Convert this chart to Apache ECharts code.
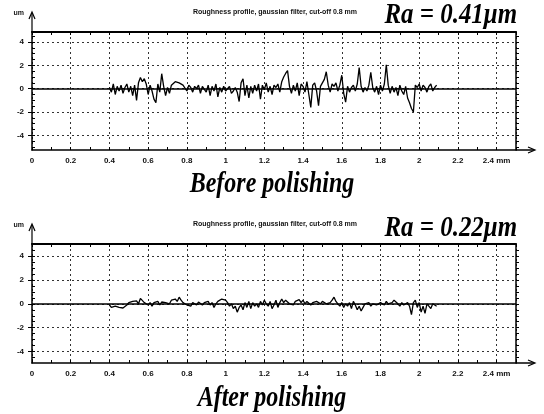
<!DOCTYPE html>
<html>
<head>
<meta charset="utf-8">
<script src="https://cdn.jsdelivr.net/npm/echarts@6/dist/echarts.min.js"></script>
<style>
  html, body { margin: 0; padding: 0; background: #fff; }
  #chart { width: 544px; height: 414px; }
</style>
</head>
<body>
<div id="chart"></div>
<script>
// profile sampled every 0.01 mm starting at 0.40 mm
const xStart = 0.40;
const xStep = 0.01;

const beforeProfile = [
  0.1, -0.3, 0.4, -0.5, 0.2, -0.2, 0.3, -0.4, 0.1, 0.4,
  -0.3, 0.2, -0.6, 0.3, -1.0, 0.5, 0.95, 0.6, 0.85, 0.4,
  -0.5, 0.3, -0.2, -0.9, -1.2, 0.4, -0.3, 1.28, 0.2, -0.6,
  0.1, -0.4, 0.3, 0.2, 0.6, 0.75, 0.5, 0.6, 0.3, 0.4,
  -0.2, 0.3, 0.1, -0.3, 0.2, 0.0, 0.3, -0.4, 0.2, 0.1,
  -0.3, 0.3, -0.6, 0.2, -0.2, 0.4, -0.7, 0.1, -0.3, 0.2,
  -0.2, -0.1, 0.2, -0.4, -0.2, 0.1, -0.3, -1.1, 0.5, 0.85,
  -0.6, 0.3, -0.8, 0.2, -0.4, 0.3, -0.2, 0.4, -0.9, 0.3,
  -0.1, 0.5, -0.3, 0.2, -0.5, 0.3, 0.1, 0.4, -0.3, 0.6,
  1.0, 1.3, 1.55, 0.2, -0.4, 0.3, -0.2, 0.5, -0.6, 0.4,
  0.2, -0.3, 0.6, -0.5, -1.6, 0.3, 0.5, -0.2, -1.45, 0.2,
  0.5, 0.8, 1.45, 0.3, -0.3, 0.4, 0.2, 0.5, -0.2, 0.3,
  1.15, -0.4, -1.15, 0.2, -0.3, 0.1, 0.3, -0.2, 0.4, 1.8,
  0.2, -0.3, 0.1, -0.2, 0.3, 1.4, 0.1, -0.3, 0.2, -0.5,
  0.3, -0.2, 0.4, 2.05, 0.3, -0.4, 0.2, -0.3, 0.1, -0.6,
  0.3, -0.2, -0.5, 0.2, -0.8, -1.2, -1.7, -2.0, 0.3, 0.1,
  0.4, -0.2, 0.3, 0.1, -0.3, 0.2, 0.4, -0.2, 0.1, 0.3
];

const afterProfile = [
  -0.1, -0.3, -0.4, -0.2, -0.3, -0.3, -0.3, -0.35, -0.3, -0.1,
  0.1, 0.0, 0.2, 0.1, 0.25, 0.0, 0.45, 0.3, 0.1, 0.0,
  -0.1, 0.1, -0.2, 0.1, 0.0, 0.2, -0.1, 0.15, 0.3, 0.1,
  0.25, 0.0, 0.3, 0.2, 0.4, 0.2, 0.55, 0.3, 0.1, 0.2,
  -0.1, 0.0, -0.2, 0.1, 0.0, -0.1, 0.15, 0.0, -0.1, 0.1,
  0.0, 0.2, -0.1, 0.1, -0.3, 0.0, 0.2, 0.1, 0.4, 0.55,
  0.3, 0.1, -0.2, 0.0, -0.4, -0.2, -0.7, -0.3, -0.1, -0.5,
  0.1, -0.3, 0.2, -0.4, 0.1, -0.2, 0.0, -0.3, 0.2, -0.1,
  0.3, 0.0, -0.2, 0.2, -0.4, -0.1, 0.3, -0.3, 0.1, 0.4,
  0.1, 0.3, 0.2, 0.0, 0.1, -0.1, 0.2, 0.1, 0.35, 0.1,
  0.3, 0.0, 0.2, 0.1, -0.1, 0.1, 0.0, 0.2, 0.1, 0.0,
  0.2, 0.1, 0.0, 0.15, 0.1, 0.3, 0.55, 0.2, 0.0, -0.2,
  0.1, -0.3, 0.0, -0.2, 0.1, -0.4, 0.2, -0.1, -0.5, -0.2,
  -0.6, -0.3, 0.0, -0.1, 0.1, -0.2, 0.0, 0.1, -0.1, 0.0,
  0.1, 0.0, -0.1, 0.2, 0.0, -0.1, 0.1, 0.3, 0.2, 0.0,
  -0.2, 0.1, -0.1, 0.0, 0.1, -0.2, -0.9, 0.1, 0.3, -0.3,
  0.1, -0.7, -0.2, -0.8, 0.0, -0.2, -0.4, 0.0, -0.1, -0.2
];

const xTickLabels = ['0', '0.2', '0.4', '0.6', '0.8', '1', '1.2', '1.4', '1.6', '1.8', '2', '2.2', '2.4 mm'];
const yTickValues = [-4, -2, 0, 2, 4];
const yMinorValues = [-5, -4.5, -4, -3.5, -3, -2.5, -2, -1.5, -1, -0.5, 0, 0.5, 1, 1.5, 2, 2.5, 3, 3.5, 4, 4.5];

const plotTitle = 'Roughness profile, gaussian filter, cut-off 0.8 mm';
const raBefore = 'Ra = 0.41μm';
const raAfter = 'Ra = 0.22μm';
const captionBefore = 'Before polishing';
const captionAfter = 'After polishing';

const panels = [
  { top: 32, height: 118, yMin: -5.25, yMax: 4.85, data: beforeProfile },
  { top: 244, height: 119, yMin: -4.95, yMax: 5.0, data: afterProfile }
];

const smallFont = { fontFamily: 'Liberation Sans', fontSize: 8, fontWeight: 'bold', color: '#111' };
const dashed = { color: '#333', width: 1, type: [2, 3] };

const chart = echarts.init(document.getElementById('chart'));

const grids = [], xAxes = [], yAxes = [], series = [];
panels.forEach((p, i) => {
  grids.push({ left: 32, width: 484, top: p.top, height: p.height });
  // bottom axis with labels
  xAxes.push({
    type: 'value', gridIndex: i, position: 'bottom', min: 0, max: 2.5, interval: 0.2,
    axisLine: { onZero: false, lineStyle: { color: '#000', width: 1.5 } },
    axisTick: { inside: true, length: 3, lineStyle: { color: '#000' } },
    minorTick: { show: true, splitNumber: 2, length: 3, lineStyle: { color: '#000' } },
    splitLine: { show: true, lineStyle: dashed },
    axisLabel: Object.assign({
      margin: 7, showMaxLabel: false,
      formatter: v => {
        const k = Math.round(v / 0.2);
        return Math.abs(v - k * 0.2) < 1e-6 && k < xTickLabels.length ? xTickLabels[k] : '';
      }
    }, smallFont)
  });
  // top border
  xAxes.push({
    type: 'value', gridIndex: i, position: 'top', min: 0, max: 2.5, interval: 0.1,
    axisLine: { onZero: false, lineStyle: { color: '#000', width: 2 } },
    axisTick: { inside: true, length: 3, lineStyle: { color: '#000' } },
    axisLabel: { show: false }, splitLine: { show: false }
  });
  // left axis with labels
  yAxes.push({
    type: 'value', gridIndex: i, position: 'left', min: p.yMin, max: p.yMax,
    axisLine: { onZero: false, lineStyle: { color: '#000', width: 1.5 } },
    axisTick: { customValues: yTickValues, length: 4, lineStyle: { color: '#000' } },
    splitLine: { show: true, lineStyle: dashed },
    axisLabel: Object.assign({ customValues: yTickValues, margin: 8 }, smallFont)
  });
  // right border
  yAxes.push({
    type: 'value', gridIndex: i, position: 'right', min: p.yMin, max: p.yMax,
    axisLine: { onZero: false, lineStyle: { color: '#000', width: 1.5 } },
    axisTick: { customValues: yMinorValues, length: 3, lineStyle: { color: '#000' } },
    axisLabel: { show: false }, splitLine: { show: false }
  });
  // left minor ticks
  yAxes.push({
    type: 'value', gridIndex: i, position: 'left', min: p.yMin, max: p.yMax,
    axisLine: { show: false },
    axisTick: { customValues: yMinorValues, inside: true, length: 3, lineStyle: { color: '#000' } },
    axisLabel: { show: false }, splitLine: { show: false }
  });
  series.push({
    type: 'line', xAxisIndex: i * 2, yAxisIndex: i * 3,
    data: p.data.map((v, k) => [+(xStart + k * xStep).toFixed(2), v]),
    showSymbol: false, lineStyle: { color: '#000', width: 1.3 },
    markLine: {
      silent: true, symbol: 'none', label: { show: false },
      lineStyle: { color: '#000', width: 1.6, type: 'solid' },
      data: [{ yAxis: 0 }]
    }
  });
});

// arrows, headings and captions
const graphic = [];
panels.forEach(p => {
  const bottom = p.top + p.height;
  graphic.push(
    { type: 'line', shape: { x1: 32, y1: p.top, x2: 32, y2: p.top - 19 }, style: { stroke: '#000', lineWidth: 1.2 } },
    { type: 'polyline', shape: { points: [[29, p.top - 13], [32, p.top - 20], [35, p.top - 13]] }, style: { stroke: '#000', lineWidth: 1.2, fill: null } },
    { type: 'line', shape: { x1: 516, y1: bottom, x2: 534, y2: bottom }, style: { stroke: '#000', lineWidth: 1.5 } },
    { type: 'polyline', shape: { points: [[528, bottom - 3], [535, bottom], [528, bottom + 3]] }, style: { stroke: '#000', lineWidth: 1.2, fill: null } },
    { type: 'text', x: 24, y: p.top - 19, style: { text: 'um', fill: '#111', font: 'bold 7px "Liberation Sans"', align: 'right', verticalAlign: 'middle' } },
    { type: 'text', x: 275, y: p.top - 20, style: { text: plotTitle, fill: '#111', font: 'bold 7px "Liberation Sans"', align: 'center', verticalAlign: 'middle' } }
  );
});
const bigFont = 'italic bold 30px "Liberation Serif"';
graphic.push(
  { type: 'text', x: 517, y: 15, scaleX: 0.83, style: { text: raBefore, fill: '#000', font: bigFont, align: 'right', verticalAlign: 'middle' } },
  { type: 'text', x: 517, y: 228, scaleX: 0.83, style: { text: raAfter, fill: '#000', font: bigFont, align: 'right', verticalAlign: 'middle' } },
  { type: 'text', x: 272, y: 184, scaleX: 0.8, style: { text: captionBefore, fill: '#000', font: bigFont, align: 'center', verticalAlign: 'middle' } },
  { type: 'text', x: 272, y: 398, scaleX: 0.8, style: { text: captionAfter, fill: '#000', font: bigFont, align: 'center', verticalAlign: 'middle' } }
);

chart.setOption({
  animation: false,
  grid: grids,
  xAxis: xAxes,
  yAxis: yAxes,
  series: series,
  graphic: graphic
});
</script>
</body>
</html>
